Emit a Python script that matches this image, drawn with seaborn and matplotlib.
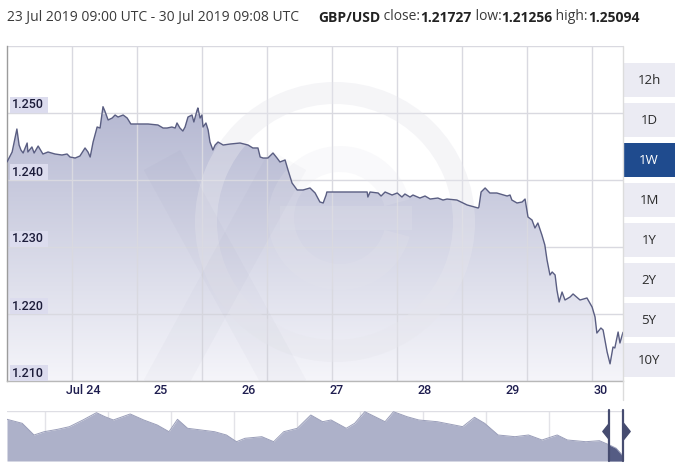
import numpy as np
import pandas as pd
import matplotlib
matplotlib.use("Agg")
import matplotlib.pyplot as plt
import matplotlib.dates as mdates
import matplotlib.transforms as mtrans
from matplotlib.patches import Rectangle, Wedge
from matplotlib.lines import Line2D
import seaborn as sns

# ---------------- data ----------------
hours = [0.0, 1.4, 2.7, 3.3, 3.8, 4.4, 5.5, 5.7, 6.8, 7.4, 8.5, 9.8, 11.2, 13.1, 15.0,
         16.4, 17.2, 18.6, 19.9, 21.3, 22.1, 22.7, 23.5, 24.6, 25.4, 26.2, 26.7, 27.6,
         28.7, 29.5, 30.3, 31.7, 32.8, 33.8, 35.8, 38.5, 41.2, 42.6, 43.7, 45.0, 45.9,
         46.4, 47.2, 48.0, 48.6, 49.4, 50.5, 51.0, 51.9, 52.1, 52.7, 53.2, 53.5, 54.3,
         54.9, 55.4, 56.2, 56.8, 57.6, 59.0, 60.9, 63.6, 65.8, 67.1, 68.5, 69.1, 69.9,
         71.2, 72.6, 73.7, 74.5, 75.9, 76.7, 77.8, 79.2, 80.8, 82.7, 84.1, 85.4, 86.3,
         87.1, 87.3, 92.8, 96.3, 98.3, 98.5, 99.1, 101.3, 102.1, 103.2, 105.1, 106.5,
         107.8, 108.6, 110.0, 110.8, 112.7, 114.1, 115.5, 117.6, 119.0, 120.1, 122.8,
         125.6, 128.6, 128.8, 129.4, 130.5, 131.8, 133.7, 134.6, 136.5, 137.3, 137.8,
         139.2, 140.6, 141.4, 142.2, 143.3, 144.1, 144.9, 146.0, 146.8, 147.4, 148.2,
         148.8, 149.6, 150.1, 150.7, 151.5, 152.3, 153.7, 154.5, 156.4, 158.3, 159.7,
         160.5, 161.0, 162.1, 162.7, 163.8, 164.6, 165.4, 165.9, 166.8, 167.3, 168.13]
rates = [1.24269, 1.24418, 1.24761, 1.24522, 1.24448, 1.24403, 1.24552, 1.24418, 1.24493,
         1.24403, 1.24507, 1.24388, 1.24418, 1.24388, 1.24373, 1.24388, 1.24343, 1.24328,
         1.24358, 1.24478, 1.24418, 1.24343, 1.24567, 1.24791, 1.24776, 1.25094, 1.25030,
         1.24896, 1.24925, 1.24970, 1.24940, 1.24970, 1.24925, 1.24836, 1.24836, 1.24836,
         1.24821, 1.24776, 1.24776, 1.24791, 1.24776, 1.24851, 1.24776, 1.24731, 1.24791,
         1.24940, 1.24970, 1.24866, 1.25045, 1.25075, 1.24925, 1.24970, 1.24791, 1.24851,
         1.24746, 1.24567, 1.24448, 1.24522, 1.24567, 1.24522, 1.24537, 1.24552, 1.24522,
         1.24478, 1.24478, 1.24343, 1.24328, 1.24328, 1.24403, 1.24328, 1.24269, 1.24299,
         1.24149, 1.23955, 1.23851, 1.23851, 1.23881, 1.23806, 1.23672, 1.23657, 1.23776,
         1.23821, 1.23821, 1.23821, 1.23821, 1.23746, 1.23821, 1.23806, 1.23761, 1.23821,
         1.23776, 1.23806, 1.23746, 1.23791, 1.23746, 1.23776, 1.23731, 1.23761, 1.23716,
         1.23731, 1.23701, 1.23716, 1.23701, 1.23627, 1.23582, 1.23597, 1.23821, 1.23881,
         1.23806, 1.23806, 1.23791, 1.23761, 1.23776, 1.23701, 1.23657, 1.23672, 1.23716,
         1.23448, 1.23403, 1.23284, 1.23358, 1.23179, 1.23030, 1.22806, 1.22582, 1.22627,
         1.22582, 1.22358, 1.22179, 1.22328, 1.22209, 1.22254, 1.22299, 1.22209, 1.22239,
         1.22104, 1.21955, 1.21716, 1.21791, 1.21761, 1.21433, 1.21256, 1.21507, 1.21493,
         1.21731, 1.21567, 1.21727]

# overview (navigator) series: one year, days after 2018-07-30
nav_days = [0, 9, 16, 22, 30, 37, 45, 53, 58, 63, 73, 81, 89, 96, 101, 107, 115, 123,
            130, 136, 141, 151, 158, 164, 172, 180, 187, 192, 201, 206, 212, 218, 224,
            229, 237, 244, 255, 265, 270, 277, 283, 291, 301, 309, 317, 326, 332, 343,
            351, 357, 361, 365]
nav_rates = [1.3108, 1.3006, 1.2708, 1.2792, 1.2853, 1.2920, 1.3091, 1.3277, 1.3175,
             1.3091, 1.3244, 1.3091, 1.2963, 1.2792, 1.3108, 1.2879, 1.2836, 1.2792,
             1.2708, 1.2537, 1.2624, 1.2665, 1.2537, 1.2792, 1.2879, 1.3218, 1.3047,
             1.3091, 1.2879, 1.3006, 1.3302, 1.3175, 1.3047, 1.3302, 1.3175, 1.3091,
             1.3047, 1.2963, 1.2920, 1.3159, 1.3006, 1.2708, 1.2665, 1.2708, 1.2581,
             1.2708, 1.2581, 1.2537, 1.2563, 1.2453, 1.2369, 1.2173]

y_ticks = [1.210, 1.220, 1.230, 1.240, 1.250]
day_labels = ["Jul 24", "25", "26", "27", "28", "29", "30"]
buttons = ["12h", "1D", "1W", "1M", "1Y", "2Y", "5Y", "10Y"]
selected = "1W"
title_range = "23 Jul 2019 09:00 UTC - 30 Jul 2019 09:08 UTC"
pair = "GBP/USD"
stat_names = ["close:", "low:", "high:"]
stat_values = ["1.21727", "1.21256", "1.25094"]

start = pd.Timestamp("2019-07-23 09:00")
end = pd.Timestamp("2019-07-30 09:08")
nav_start = pd.Timestamp("2018-07-30 09:08")

df = pd.DataFrame({"time": start + pd.to_timedelta(hours, unit="h"), "rate": rates})
nav = pd.DataFrame({"time": nav_start + pd.to_timedelta(nav_days, unit="D"), "rate": nav_rates})

# ---------------- style ----------------
sns.set_theme(style="white")
plt.rcParams["font.family"] = ["Liberation Sans", "DejaVu Sans"]
afont = ["Roboto", "Liberation Sans", "DejaVu Sans"]
tfont = ["Open Sans", "DejaVu Sans"]

W, H = 685, 476
fig = plt.figure(figsize=(W / 100, H / 100), dpi=100)
fig.patch.set_facecolor("white")


def fx(px):
    return px / W


def fy(py):
    return 1 - py / H


# ---------------- main chart ----------------
ax = fig.add_axes([fx(7), fy(381), 616 / W, (381 - 46) / H])
ax.set_facecolor("white")
x0, x1 = mdates.date2num(start), mdates.date2num(end)
ymin, ymax = 1.210, 1.260

poly = ax.fill_between(df["time"], df["rate"], ymin - 0.01, facecolor="none", edgecolor="none")
top_c = np.array([180, 183, 209]) / 255
bot_c = np.array([245, 245, 250]) / 255
g = np.linspace(0, 1, 256)[:, None, None]
img = top_c * (1 - g) + bot_c * g
im = ax.imshow(img, extent=[x0, x1, ymin, 1.2515], aspect="auto", origin="upper",
               zorder=1, interpolation="bilinear")
im.set_clip_path(poly.get_paths()[0], transform=ax.transData)

sns.lineplot(data=df, x="time", y="rate", ax=ax, color="#5a5e82", lw=1.0, zorder=4)

# watermark (xe logo), very faint
wm_light = (0.90, 0.90, 0.93)
ring = Wedge((3.35, (H - 222) / 100), 1.40, 0, 360, width=0.22,
             transform=fig.dpi_scale_trans, fc=wm_light, ec="none", alpha=0.40, zorder=3)
ax.add_patch(ring)
e_arc = Wedge((3.40, (H - 218) / 100), 0.72, 15, 345, width=0.26,
              transform=fig.dpi_scale_trans, fc=wm_light, ec="none", alpha=0.22, zorder=3)
ax.add_patch(e_arc)
e_bar = Rectangle((2.80, (H - 230) / 100), 1.32, 0.24, transform=fig.dpi_scale_trans,
                  fc=wm_light, ec="none", alpha=0.22, zorder=3)
ax.add_patch(e_bar)
for (xa, ya, xb, yb) in [(1.62, (H - 160) / 100, 2.88, (H - 390) / 100),
                         (2.88, (H - 160) / 100, 1.62, (H - 390) / 100)]:
    ln = Line2D([xa, xb], [ya, yb], transform=fig.dpi_scale_trans, color="#3c4070",
                lw=30, alpha=0.025, solid_capstyle="butt", zorder=3)
    ax.add_line(ln)

ax.set_xlim(x0, x1)
ax.set_ylim(ymin, ymax)
ax.set_xlabel("")
ax.set_ylabel("")

# grid
ax.set_yticks(y_ticks + [1.260])
ax.tick_params(axis="y", length=0, labelleft=False)
ax.set_axisbelow("line")
ax.grid(axis="y", color="#d9d9e0", lw=1)
for k in range(1, 10):
    ax.axvline(x0 + (x1 - x0) * k * 65 / 616, color="#d9d9e0", lw=1, zorder=1.5)

# x ticks at day boundaries
day_ticks = pd.date_range("2019-07-24", "2019-07-30", freq="D")
ax.set_xticks(mdates.date2num(day_ticks))
ax.set_xticklabels([""] * len(day_ticks))
ax.tick_params(axis="x", which="major", direction="out", length=14, width=1, color="#d0d0d0")
minor = pd.date_range(start + pd.Timedelta(days=1), end, freq="D")
ax.set_xticks(mdates.date2num(minor), minor=True)
ax.tick_params(axis="x", which="minor", direction="in", length=3, width=1, color="#c0c0c0")
for t, lab in zip(day_ticks, day_labels):
    ax.annotate(lab, xy=(mdates.date2num(t), 0), xycoords=("data", "axes fraction"),
                xytext=(4, -10), textcoords="offset pixels", ha="left", va="center",
                fontsize=9, family=afont, weight="medium", color="#1e1d4f",
                annotation_clip=False)

# y labels in boxes inside the plot
for v in y_ticks:
    tr = fig.dpi_scale_trans + mtrans.ScaledTranslation(0, v, ax.get_yaxis_transform())
    ax.add_patch(Rectangle((0.025, 0.0), 0.385, 0.165, transform=tr, fc="#dcdcee",
                           ec="none", zorder=5, clip_on=False))
    ax.annotate(f"{v:.3f}", xy=(0, v), xycoords=("axes fraction", "data"),
                xytext=(5, 8), textcoords="offset pixels", ha="left", va="center",
                fontsize=9, family=afont, weight="medium", color="#1c1c3a", zorder=6,
                annotation_clip=False)

for s in ["top", "right"]:
    ax.spines[s].set_visible(False)
ax.spines["left"].set_color("#9c9c9c")
ax.spines["left"].set_linewidth(1)
ax.spines["bottom"].set_color("#b8b8b8")
ax.spines["bottom"].set_linewidth(1)

fig.add_artist(Line2D([fx(623), fx(623)], [fy(46), fy(400)], transform=fig.transFigure,
                      color="#dcdcdc", lw=1))

# ---------------- navigator ----------------
axn = fig.add_axes([fx(7), fy(461), 616 / W, 50 / H])
axn.set_facecolor("white")
n0, n1 = mdates.date2num(nav_start), mdates.date2num(end)
nav_lo, nav_hi = 1.2045, 1.332
for k in range(1, 10):
    axn.axvline(n0 + (n1 - n0) * (k * 63 - 25) / 616, color="#e3e3e8", lw=1, zorder=0)
axn.axhline(nav_hi, color="#dedee4", lw=1, zorder=0)
sel_start = nav_start + pd.Timedelta(days=357)
axn.fill_between(nav["time"], nav["rate"], nav_lo, color="#adb1c9", lw=0, zorder=1)
axn.fill_between(nav["time"], nav["rate"], nav_lo, where=nav["time"] >= sel_start,
                 interpolate=True, color="#555c84", lw=0, zorder=2)
sns.lineplot(data=nav, x="time", y="rate", ax=axn, color="#9a9eb9", lw=0.7, zorder=3)
axn.set_xlim(n0, n1)
axn.set_ylim(nav_lo, nav_hi)
axn.set_xlabel("")
axn.set_ylabel("")
axn.set_xticks([])
axn.set_yticks([])
for s in axn.spines.values():
    s.set_visible(False)
handle_c = "#464c70"
sel_num = mdates.date2num(sel_start)
for xpos, verts in [(sel_num, [(0, -1), (-0.8, 0), (0, 1)]), (n1, [(0, -1), (0.8, 0), (0, 1)])]:
    axn.plot([xpos, xpos], [nav_lo, nav_hi + 0.002], color=handle_c, lw=1.6, zorder=5,
             clip_on=False)
    axn.plot([xpos], [(nav_lo + nav_hi) / 2 + 0.012], marker=verts, markersize=12,
             color=handle_c, zorder=6, clip_on=False, lw=0)

# ---------------- title ----------------
t = fig.text(fx(7), fy(17), title_range, ha="left", va="center", fontsize=10,
             family=tfont, color="#3a3a3a")
prev = ax.annotate(pair, xy=(1, 0), xycoords=t, xytext=(19, 0), textcoords="offset pixels",
                   ha="left", va="bottom", fontsize=10, family=tfont, weight="bold",
                   color="#222222", annotation_clip=False)
for nm, val in zip(stat_names, stat_values):
    prev = ax.annotate(" " + nm, xy=(1, 0), xycoords=prev, ha="left", va="bottom",
                       fontsize=10, family=tfont, color="#3a3a3a", annotation_clip=False)
    prev = ax.annotate(val, xy=(1, 0), xycoords=prev, ha="left", va="bottom",
                       fontsize=10, family=tfont, weight="bold", color="#222222",
                       annotation_clip=False)

# ---------------- range buttons ----------------
for i, b in enumerate(buttons):
    cy = 80 + 40 * i
    sel = b == selected
    fig.add_artist(Rectangle((fx(623), fy(cy + 17)), 52 / W, 34 / H, transform=fig.transFigure,
                             fc="#1f4b8e" if sel else "#ebebf3", ec="none"))
    fig.text(fx(649), fy(cy), b, ha="center", va="center", fontsize=9.5, family=tfont,
             color="white" if sel else "#2b2b2b")

fig.savefig("out.png", dpi=100)
